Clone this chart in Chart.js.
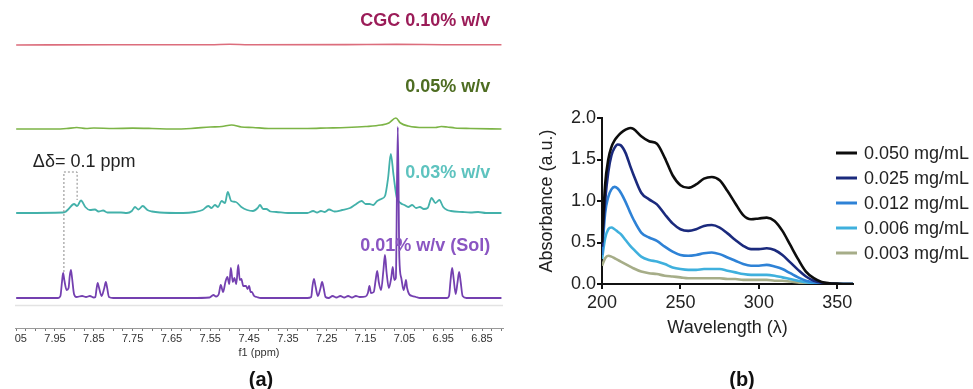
<!DOCTYPE html>
<html>
<head>
<meta charset="utf-8">
<script src="https://cdn.jsdelivr.net/npm/chart.js@4.4.1/dist/chart.umd.min.js"></script>
<style>
  html, body { margin: 0; padding: 0; background: #fff; }
  body { width: 973px; height: 389px; position: relative; overflow: hidden; font-family: "Liberation Sans", Arial, sans-serif; }
  #wrapA { position: absolute; left: 14px; top: 0; width: 501px; height: 389px; overflow: hidden; }
  #nmrChart { position: absolute; left: -14px; top: 0; }
  #uvChart { position: absolute; left: 515px; top: 0; }
  .cap { position: absolute; top: 369px; width: 60px; text-align: center; font-weight: bold; font-size: 20px; line-height: 20px; color: #111; }
</style>
</head>
<body>
<div id="wrapA"><canvas id="nmrChart" width="515" height="389"></canvas></div>
<canvas id="uvChart" width="458" height="389"></canvas>
<div class="cap" style="left:231px">(a)</div>
<div class="cap" style="left:712px">(b)</div>

<script>
// ---- (a) 1H NMR, [ppm, intensity above the trace baseline] ----
const nmrTickLabels = ['8.05', '7.95', '7.85', '7.75', '7.65', '7.55', '7.45', '7.35', '7.25', '7.15', '7.05', '6.95', '6.85'];

const cgc010 = [[8.05, 0], [7.80, 0.3], [7.55, 0.3], [7.50, 0.8], [7.45, 0.3], [7.20, 0.4], [7.07, 0.6], [6.95, 0.3], [6.80, 0.2]];

const cgc005 = [[8.05, 0], [7.95, 0], [7.92, 0.5], [7.894, 1.5], [7.87, 0.5], [7.85, 1], [7.80, 0.5], [7.75, 0.8], [7.70, 0.5],
  [7.65, 0], [7.60, 0.5], [7.55, 2], [7.52, 2.5], [7.495, 4], [7.47, 2], [7.44, 1.5], [7.40, 0.5], [7.35, 0.5], [7.30, 0.5],
  [7.25, 1], [7.20, 1.5], [7.15, 2.5], [7.11, 4], [7.09, 6], [7.072, 11], [7.06, 6], [7.04, 3], [7.00, 1.5], [6.97, 1.5],
  [6.955, 2.5], [6.94, 2], [6.92, 1], [6.88, 0.5], [6.80, 0]];

const cgc003 = [[8.05, 0], [7.93, 0.5], [7.924, 1], [7.915, 4], [7.901, 9], [7.893, 7], [7.883, 12.5], [7.872, 6], [7.86, 3],
  [7.847, 3.5], [7.838, 1.5], [7.826, 2.5], [7.815, 0.5], [7.78, 0.5], [7.765, 0], [7.752, 2], [7.744, 6], [7.735, 3.5],
  [7.724, 7], [7.712, 3], [7.70, 1.5], [7.68, 0.5], [7.62, 0], [7.59, 1], [7.57, 3], [7.555, 7], [7.547, 5], [7.538, 8],
  [7.53, 6], [7.521, 12], [7.512, 10], [7.505, 21], [7.496, 12], [7.484, 11], [7.47, 6], [7.455, 3], [7.44, 2], [7.428, 5],
  [7.422, 8], [7.414, 4], [7.406, 4], [7.395, 1.5], [7.38, 1], [7.35, 0], [7.30, 0], [7.285, 2], [7.275, 0.5], [7.265, 2],
  [7.255, 1], [7.244, 3.5], [7.23, 1.5], [7.21, 3], [7.19, 5], [7.178, 8], [7.16, 12], [7.15, 9], [7.14, 9], [7.13, 8],
  [7.12, 12], [7.11, 14], [7.10, 17], [7.092, 35], [7.085, 59], [7.078, 38], [7.07, 16], [7.06, 10], [7.05, 8], [7.04, 6],
  [7.03, 8], [7.02, 5], [7.01, 6], [7.00, 4], [6.99, 5], [6.98, 15], [6.97, 10], [6.96, 13], [6.95, 6], [6.94, 3],
  [6.93, 2], [6.90, 1], [6.88, 0.5], [6.86, 1], [6.84, 0], [6.80, 0]];

const cgc001 = [[8.05, 0], [7.942, 0], [7.936, 2], [7.932, 16], [7.929, 25], [7.926, 18], [7.920, 8], [7.915, 10], [7.912, 22],
  [7.909, 28], [7.906, 20], [7.901, 4], [7.895, 1], [7.88, 2], [7.87, 1], [7.86, 2], [7.85, 0.5], [7.846, 1], [7.843, 9],
  [7.840, 15], [7.837, 11], [7.830, 2], [7.823, 10], [7.819, 16], [7.816, 11], [7.811, 1], [7.80, 0], [7.60, 0],
  [7.552, 0.5], [7.542, 3], [7.535, 1.5], [7.528, 4], [7.523, 13], [7.517, 6], [7.511, 16], [7.506, 21], [7.501, 14],
  [7.497, 30], [7.492, 16], [7.488, 20], [7.483, 14], [7.478, 33], [7.474, 18], [7.470, 19], [7.465, 12], [7.458, 12],
  [7.454, 9], [7.450, 12], [7.446, 6], [7.443, 6], [7.437, 2], [7.43, 1], [7.42, 0], [7.30, 0], [7.29, 1], [7.287, 11],
  [7.283, 19], [7.279, 12], [7.273, 2], [7.266, 10], [7.262, 16], [7.258, 10], [7.253, 1], [7.245, 0], [7.235, 2],
  [7.225, 0.5], [7.215, 2], [7.205, 0.5], [7.195, 2], [7.185, 0.5], [7.175, 2], [7.165, 1], [7.15, 1.5], [7.144, 5],
  [7.140, 12], [7.136, 5], [7.129, 6], [7.124, 18], [7.120, 27], [7.116, 16], [7.110, 8], [7.104, 28], [7.100, 43],
  [7.096, 26], [7.090, 10], [7.084, 20], [7.080, 31], [7.076, 18], [7.072, 20], [7.067, 171], [7.063, 40], [7.058, 20],
  [7.052, 8], [7.048, 14], [7.046, 18], [7.043, 10], [7.038, 4], [7.030, 2], [7.02, 1], [7.01, 0], [6.94, 0],
  [6.935, 2], [6.931, 18], [6.927, 30], [6.923, 19], [6.918, 4], [6.913, 16], [6.909, 26], [6.905, 16], [6.900, 2],
  [6.89, 0], [6.80, 0]];

// ---- (b) UV-vis absorbance ----
const wavelengths = [200, 202, 204, 206, 208, 210, 212, 215, 218, 220, 225, 230, 235, 240, 245, 250, 255, 260, 265, 270,
  275, 280, 285, 290, 295, 300, 305, 310, 315, 320, 325, 330, 335, 340, 345, 350, 355, 360];
const uvLabels = ['0.050 mg/mL', '0.025 mg/mL', '0.012 mg/mL', '0.006 mg/mL', '0.003 mg/mL'];
const abs050 = [0.5, 1.2, 1.5, 1.65, 1.73, 1.78, 1.82, 1.86, 1.88, 1.87, 1.78, 1.72, 1.69, 1.52, 1.31, 1.19, 1.16, 1.2, 1.27, 1.29,
  1.25, 1.12, 0.97, 0.83, 0.78, 0.79, 0.8, 0.76, 0.64, 0.47, 0.3, 0.15, 0.07, 0.025, 0.01, 0.005, 0, 0];
const abs025 = [0.45, 1.0, 1.35, 1.55, 1.64, 1.68, 1.67, 1.58, 1.42, 1.32, 1.1, 1.02, 0.96, 0.84, 0.73, 0.66, 0.64, 0.66, 0.7, 0.71,
  0.68, 0.61, 0.53, 0.46, 0.42, 0.42, 0.43, 0.41, 0.35, 0.26, 0.17, 0.09, 0.04, 0.015, 0.005, 0, 0, 0];
const abs012 = [0.35, 0.85, 1.05, 1.14, 1.17, 1.15, 1.1, 0.99, 0.86, 0.78, 0.62, 0.56, 0.52, 0.45, 0.39, 0.35, 0.34, 0.35, 0.37, 0.38,
  0.36, 0.32, 0.28, 0.24, 0.22, 0.22, 0.23, 0.21, 0.18, 0.13, 0.08, 0.04, 0.02, 0.01, 0, 0, 0, 0];
const abs006 = [0.3, 0.55, 0.66, 0.68, 0.66, 0.63, 0.6, 0.53, 0.46, 0.42, 0.33, 0.29, 0.27, 0.24, 0.2, 0.18, 0.17, 0.17, 0.18, 0.18,
  0.18, 0.16, 0.14, 0.12, 0.11, 0.11, 0.11, 0.1, 0.08, 0.06, 0.04, 0.02, 0.01, 0.005, 0, 0, 0, 0];
const abs003 = [0.22, 0.31, 0.34, 0.33, 0.31, 0.29, 0.27, 0.24, 0.21, 0.19, 0.15, 0.13, 0.12, 0.1, 0.09, 0.08, 0.07, 0.07, 0.07, 0.07,
  0.07, 0.06, 0.06, 0.05, 0.05, 0.05, 0.05, 0.04, 0.04, 0.03, 0.02, 0.01, 0.01, 0.005, 0, 0, 0, 0];
const uvXTicks = [200, 250, 300, 350];
const uvYTicks = [0, 0.5, 1.0, 1.5, 2.0];

const FONT = '"Liberation Sans", Arial, Helvetica, sans-serif';
Chart.defaults.font.family = FONT;

// stacked spectra: each trace sits on its own baseline (chart units = px)
function trace(points, offset, color, width) {
  return {
    data: points.map(p => ({ x: p[0], y: p[1] + offset })),
    borderColor: color,
    borderWidth: width,
    pointRadius: 0,
    cubicInterpolationMode: 'monotone',
    fill: false
  };
}

const nmrTextPlugin = {
  id: 'nmrText',
  afterDatasetsDraw(chart) {
    const { ctx, scales: { x, y } } = chart;
    const items = [
      { t: 'CGC 0.10% w/v', c: '#9b1c58', px: 6.829, v: 277, a: 'right', f: 'bold 18px ' + FONT },
      { t: '0.05% w/v', c: '#4e6d22', px: 6.829, v: 211, a: 'right', f: 'bold 18px ' + FONT },
      { t: '0.03% w/v', c: '#5ec3bf', px: 6.829, v: 125, a: 'right', f: 'bold 18px ' + FONT },
      { t: '0.01% w/v (Sol)', c: '#8a55c2', px: 6.829, v: 52, a: 'right', f: 'bold 18px ' + FONT },
      { t: 'Δδ= 0.1 ppm', c: '#222', px: 8.007, v: 136, a: 'left', f: '18px ' + FONT }
    ];
    ctx.save();
    ctx.textBaseline = 'middle';
    items.forEach(it => {
      ctx.font = it.f;
      ctx.fillStyle = it.c;
      ctx.textAlign = it.a;
      ctx.fillText(it.t, x.getPixelForValue(it.px), y.getPixelForValue(it.v));
    });
    ctx.restore();
  }
};

new Chart(document.getElementById('nmrChart'), {
  type: 'line',
  data: {
    datasets: [
      trace(cgc001, 0, '#7440b0', 1.8),
      // dotted shift marker between the 0.01% and 0.03% doublets
      {
        data: [{ x: 7.927, y: 26 }, { x: 7.927, y: 126 }, { x: 7.893, y: 126 }, { x: 7.893, y: 98 }],
        borderColor: '#8a8a8a', borderWidth: 1, borderDash: [2, 2], pointRadius: 0, fill: false
      },
      // faint line under the bottom spectrum
      { data: [{ x: 8.053, y: -7.5 }, { x: 6.796, y: -7.5 }], borderColor: '#e3e3e3', borderWidth: 1.5, pointRadius: 0 },
      trace(cgc003, 85, '#43b1aa', 1.8),
      trace(cgc005, 169, '#7cb446', 1.7),
      trace(cgc010, 253, '#dc6d7c', 1.6)
    ]
  },
  options: {
    responsive: false,
    animation: false,
    layout: { padding: { left: 15, right: 12, top: 10, bottom: 29 } },
    plugins: { legend: { display: false }, tooltip: { enabled: false } },
    scales: {
      x: {
        type: 'linear',
        reverse: true,
        min: 6.796,
        max: 8.053,
        afterBuildTicks: s => {
          const t = [];
          for (let i = 0; i <= 50; i++) t.push({ value: +(6.8 + i * 0.025).toFixed(3) });
          s.ticks = t;
        },
        afterFit: s => { s.height = 32; },
        grid: { drawOnChartArea: false, tickLength: 3, color: '#777' },
        border: { color: '#999', width: 1 },
        ticks: {
          autoSkip: false, maxRotation: 0, padding: 1, color: '#333', font: { size: 11 },
          callback: v => { const s = Number(v).toFixed(2); return nmrTickLabels.includes(s) ? s : ''; }
        },
        title: { display: true, text: 'f1 (ppm)', color: '#333', font: { size: 11 }, padding: 0 }
      },
      y: { display: false, min: -30, max: 288 }
    }
  },
  plugins: [nmrTextPlugin]
});

// ---- (b) ----
const uvColors = ['#0d0d0d', '#1b2a7d', '#2e82d6', '#3fb0dd', '#a6ad88'];
const uvSeries = [abs050, abs025, abs012, abs006, abs003];

const uvLegendPlugin = {
  id: 'uvLegend',
  afterDraw(chart) {
    const { ctx } = chart;
    ctx.save();
    ctx.font = '18px ' + FONT;
    ctx.textBaseline = 'middle';
    ctx.textAlign = 'left';
    chart.data.datasets.forEach((ds, i) => {
      const yy = 153 + i * 25;
      ctx.strokeStyle = ds.borderColor;
      ctx.lineWidth = 3;
      ctx.beginPath();
      ctx.moveTo(321, yy);
      ctx.lineTo(342, yy);
      ctx.stroke();
      ctx.fillStyle = '#222';
      ctx.fillText(ds.label, 349, yy + 1);
    });
    ctx.restore();
  }
};

new Chart(document.getElementById('uvChart'), {
  type: 'line',
  data: {
    datasets: uvSeries.map((vals, i) => ({
      label: uvLabels[i],
      data: wavelengths.map((w, j) => ({ x: w, y: vals[j] })),
      borderColor: uvColors[i],
      backgroundColor: uvColors[i],
      borderWidth: 2.6,
      pointRadius: 0,
      cubicInterpolationMode: 'monotone',
      fill: false
    }))
  },
  options: {
    responsive: false,
    animation: false,
    layout: { padding: { left: 0, right: 120, top: 118, bottom: 50 } },
    plugins: { legend: { display: false }, tooltip: { enabled: false } },
    scales: {
      x: {
        type: 'linear',
        min: 200,
        max: 360,
        afterBuildTicks: s => { s.ticks = uvXTicks.map(v => ({ value: v })); },
        afterFit: s => { s.height = 55; },
        grid: { drawOnChartArea: false, tickLength: 5, color: '#111', lineWidth: 2 },
        border: { color: '#111', width: 2 },
        ticks: { maxRotation: 0, padding: 3, color: '#222', font: { size: 18 } },
        title: { display: true, text: 'Wavelength (λ)', color: '#222', font: { size: 18 }, padding: 0 }
      },
      y: {
        min: 0,
        max: 2,
        afterBuildTicks: s => { s.ticks = uvYTicks.map(v => ({ value: v })); },
        afterFit: s => { s.width = 87; },
        grid: { drawOnChartArea: false, tickLength: 5, color: '#111', lineWidth: 2 },
        border: { color: '#111', width: 2 },
        ticks: { padding: 1, color: '#222', font: { size: 18 }, callback: v => Number(v).toFixed(1) },
        title: { display: true, text: 'Absorbance (a.u.)', color: '#222', font: { size: 18 }, padding: { top: 21, bottom: 0 } }
      }
    }
  },
  plugins: [uvLegendPlugin]
});
</script>
</body>
</html>
